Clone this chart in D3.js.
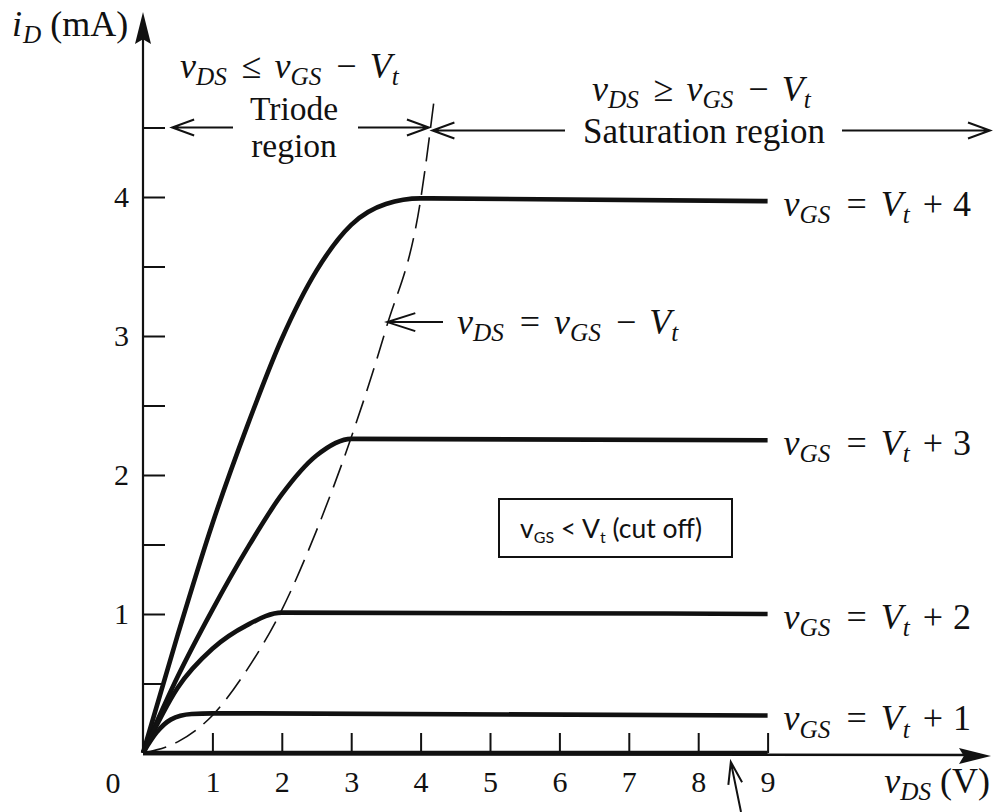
<!DOCTYPE html>
<html>
<head>
<meta charset="utf-8">
<script src="https://cdn.jsdelivr.net/npm/d3@7/dist/d3.min.js"></script>
<style>
  body { margin: 0; background: #fff; }
  svg { display: block; }
  text { font-family: "Liberation Serif", "Times New Roman", serif; fill: #111; }
</style>
</head>
<body>
<svg id="chart" width="996" height="812"></svg>
<script>
// MOSFET drain characteristics: iD (mA) against vDS (V) for several gate overdrives

const xTicks = [1, 2, 3, 4, 5, 6, 7, 8, 9];
const yTicks = [1, 2, 3, 4];
const yMinorTicks = [0.5, 1.5, 2.5, 3.5, 4.5];

// vGS - Vt of each plotted curve
const overdrives = [4, 3, 2, 1];

// [vDS, iD] samples of each curve
const curveVt4 = [[0, 0], [0.5, 0.85], [1, 1.65], [1.5, 2.35], [2, 2.98], [2.5, 3.47], [3, 3.8], [3.5, 3.95], [4, 3.99], [9, 3.97]];
const curveVt3 = [[0, 0], [0.5, 0.55], [1, 1.03], [1.5, 1.47], [2, 1.86], [2.5, 2.14], [3, 2.26], [9, 2.25]];
const curveVt2 = [[0, 0], [0.5, 0.47], [1, 0.75], [1.5, 0.92], [2, 1.01], [9, 1.0]];
const curveVt1 = [[0, 0], [0.2, 0.15], [0.4, 0.24], [0.7, 0.28], [1, 0.285], [9, 0.27]];
const cutOff = [[0, 0], [9, 0]];

// triode / saturation boundary vDS = vGS - Vt
const boundary = [[0, 0], [0.5, 0.08], [1, 0.27], [1.5, 0.6], [2, 1.03], [2.5, 1.6], [3, 2.27], [3.5, 3.05], [4, 3.98], [4.2, 4.72]];

const curves = [curveVt4, curveVt3, curveVt2, curveVt1];

const svg = d3.select("#chart");
const x = d3.scaleLinear().domain([0, 9]).range([143, 767.6]);
const y = d3.scaleLinear().domain([0, 4]).range([753, 197]);

const ink = "#111";
const serif = 36;
const serifFamily = "'Liberation Serif', 'Times New Roman', serif";

// ---- helpers -------------------------------------------------------------
function mathText(parent, px, py, tokens, size, anchor) {
  const t = parent.append("text")
    .attr("x", px).attr("y", py)
    .style("font-size", size + "px")
    .attr("text-anchor", anchor || "start");
  let shift = 0;
  tokens.forEach(([s, kind, gap]) => {
    const ts = t.append("tspan").text(s);
    const target = kind === "s" ? size * 0.2 : 0;
    ts.attr("dy", target - shift);
    shift = target;
    if (gap) ts.attr("dx", gap);
    if (kind === "i" || kind === "s") ts.style("font-style", "italic");
    if (kind === "s") ts.style("font-size", (size * 0.7) + "px");
  });
  return t;
}

function openArrow(x1, y1, x2, y2, len, half, width) {
  const a = Math.atan2(y2 - y1, x2 - x1);
  const bx = x2 - len * Math.cos(a), by = y2 - len * Math.sin(a);
  const nx = -Math.sin(a) * half, ny = Math.cos(a) * half;
  const p = d3.path();
  p.moveTo(x1, y1); p.lineTo(x2, y2);
  p.moveTo(bx + nx, by + ny); p.lineTo(x2, y2); p.lineTo(bx - nx, by - ny);
  svg.append("path").attr("d", p.toString())
    .attr("fill", "none").attr("stroke", ink)
    .attr("stroke-width", width || 2).attr("stroke-linejoin", "miter");
}

function filledHead(tx, ty, ang, len, half) {
  const bx = tx - len * Math.cos(ang), by = ty - len * Math.sin(ang);
  const nx = -Math.sin(ang) * half, ny = Math.cos(ang) * half;
  svg.append("path")
    .attr("d", `M${tx},${ty}L${bx + nx},${by + ny}L${bx + len * 0.15 * Math.cos(ang)},${by + len * 0.15 * Math.sin(ang)}L${bx - nx},${by - ny}Z`)
    .attr("fill", ink);
}

// ---- axes ----------------------------------------------------------------
const x0 = x(0), y0 = y(0);

svg.append("line").attr("x1", x0).attr("y1", y0).attr("x2", x0).attr("y2", 22)
  .attr("stroke", ink).attr("stroke-width", 2.2);
filledHead(x0, 12, -Math.PI / 2, 32, 8);

svg.append("line").attr("x1", x0).attr("y1", y0 + 1).attr("x2", 980).attr("y2", y0 + 2)
  .attr("stroke", ink).attr("stroke-width", 2.5);
filledHead(991, y0 + 3, 0, 32, 8);

const yAxis = svg.append("g").attr("transform", `translate(${x0},0)`)
  .call(d3.axisLeft(y).tickValues(yTicks).tickSizeInner(-22).tickSizeOuter(0).tickPadding(14).tickFormat(d3.format("d")));
const yMinor = svg.append("g").attr("transform", `translate(${x0},0)`)
  .call(d3.axisLeft(y).tickValues(yMinorTicks).tickSizeInner(-22).tickSizeOuter(0).tickFormat(""));
const xAxis = svg.append("g").attr("transform", `translate(0,${y0})`)
  .call(d3.axisBottom(x).tickValues(xTicks).tickSizeInner(-20).tickSizeOuter(0).tickPadding(18).tickFormat(d3.format("d")));

[yAxis, yMinor, xAxis].forEach(g => {
  g.attr("font-family", null).attr("font-size", null);
  g.select(".domain").remove();
  g.selectAll(".tick line").attr("stroke", ink).attr("stroke-width", 2);
  g.selectAll(".tick text")
    .style("font-family", serifFamily)
    .style("font-size", "30px")
    .style("fill", ink);
});

svg.append("text").attr("x", x0 - 30).attr("y", y0 + 40)
  .style("font-size", "30px").attr("text-anchor", "middle").text("0");

// axis titles
mathText(svg, 12, 36, [["i", "i"], ["D", "s", 1], [" (mA)", "n"]], serif);
mathText(svg, 990, 793, [["v", "i"], ["DS", "s"], [" (V)", "n"]], serif, "end");

// ---- curves --------------------------------------------------------------
const line = d3.line().x(d => x(d[0])).y(d => y(d[1])).curve(d3.curveMonotoneX);

svg.append("path").datum(boundary).attr("d", line)
  .attr("fill", "none").attr("stroke", ink).attr("stroke-width", 1.6)
  .attr("stroke-dasharray", "24,10");

svg.append("path").datum(cutOff).attr("d", line)
  .attr("fill", "none").attr("stroke", ink).attr("stroke-width", 4.5);

svg.selectAll("path.curve").data(curves).join("path")
  .attr("class", "curve")
  .attr("d", line)
  .attr("fill", "none").attr("stroke", ink)
  .attr("stroke-width", 4.6).attr("stroke-linecap", "butt");

// curve labels at the right end of each curve
curves.forEach((c, i) => {
  const last = c[c.length - 1];
  mathText(svg, x(last[0]) + 16, y(last[1]) + 15,
    [["v", "i"], ["GS", "s"], ["=", "n", 16], ["V", "i", 14], ["t", "s"], ["+", "n", 13], [String(overdrives[i]), "n", 10]],
    serif);
});

// ---- region annotations --------------------------------------------------
const yReg = y(4.5);
openArrow(233, yReg, x(0.42), yReg, 22, 8);
openArrow(358, yReg, x(4.12), yReg, 22, 8);
openArrow(565, yReg + 3, x(4.17), yReg + 3, 22, 8);
openArrow(842, yReg + 3, 990, yReg + 3, 22, 8);

mathText(svg, 180, 78,
  [["v", "i"], ["DS", "s"], ["≤", "n", 15], ["v", "i", 13], ["GS", "s"], ["−", "n", 15], ["V", "i", 13], ["t", "s"]], serif);
svg.append("text").attr("x", 294).attr("y", 119.5).style("font-size", "33.5px").attr("text-anchor", "middle").text("Triode");
svg.append("text").attr("x", 294).attr("y", 157).style("font-size", "33.5px").attr("text-anchor", "middle").text("region");

mathText(svg, 592, 101,
  [["v", "i"], ["DS", "s"], ["≥", "n", 15], ["v", "i", 13], ["GS", "s"], ["−", "n", 15], ["V", "i", 13], ["t", "s"]], serif);
svg.append("text").attr("x", 583).attr("y", 143).style("font-size", "35px").text("Saturation region");

// pointer to the boundary curve
openArrow(443, y(3.1), x(3.52), y(3.1), 28, 9);
mathText(svg, 457, 334,
  [["v", "i"], ["DS", "s"], ["=", "n", 16], ["v", "i", 14], ["GS", "s"], ["−", "n", 15], ["V", "i", 13], ["t", "s"]], serif);

// pointer to the cut-off line along the axis
openArrow(741, 812, x(8.47), y0 + 9, 22, 7);

// ---- cut-off box ---------------------------------------------------------
svg.append("rect").attr("x", 499).attr("y", 499).attr("width", 233).attr("height", 58)
  .attr("fill", "#fff").attr("stroke", ink).attr("stroke-width", 2);
const boxText = svg.append("text").attr("x", 520).attr("y", 538)
  .style("font-size", "26.5px").style("font-family", "Lato, 'Open Sans', sans-serif");
boxText.append("tspan").text("v");
boxText.append("tspan").text("GS").style("font-size", "16px").attr("dy", 5);
boxText.append("tspan").text(" < V").attr("dy", -5);
boxText.append("tspan").text("t").style("font-size", "16px").attr("dy", 5);
boxText.append("tspan").text(" (cut off)").attr("dy", -5);
</script>
</body>
</html>
